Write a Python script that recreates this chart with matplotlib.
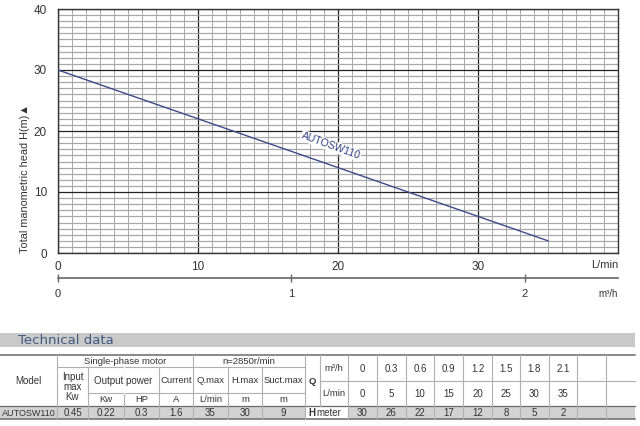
#!/usr/bin/env python3
"""AUTOSW110 pump curve with technical data table"""

import matplotlib
matplotlib.use("Agg")
import matplotlib.pyplot as plt
from matplotlib.patches import Rectangle
from matplotlib.ticker import MultipleLocator

plt.rcParams["font.family"] = ["Liberation Sans", "DejaVu Sans"]

# curve (L/min, m)
curve_q = [0, 10, 20, 30, 35]
curve_h = [30, 22, 14, 6, 2]
model = "AUTOSW110"

# technical data table
spec_values = ["AUTOSW110", "0.45", "0.22", "0.3", "1.6", "35", "30", "9"]
q_m3h = ["0", "0.3", "0.6", "0.9", "1.2", "1.5", "1.8", "2.1", "", ""]
q_lmin = ["0", "5", "10", "15", "20", "25", "30", "35", "", ""]
h_meter = ["30", "26", "22", "17", "12", "8", "5", "2", "", ""]

W, H = 640, 426
TXT = "#333333"


def plot_curve(ax):
    ax.plot(curve_q, curve_h, color="#3b4b8c", lw=1.0, zorder=3)
    ax.set_xlim(0, 40)
    ax.set_ylim(0, 40)

    ax.xaxis.set_major_locator(MultipleLocator(10))
    ax.yaxis.set_major_locator(MultipleLocator(10))
    ax.xaxis.set_minor_locator(MultipleLocator(1))
    ax.yaxis.set_minor_locator(MultipleLocator(1))
    ax.grid(which="minor", axis="x", color="#9a9a9a", lw=0.6)
    ax.grid(which="minor", axis="y", color="#a8a8a8", lw=0.9)
    ax.grid(which="major", color="#222222", lw=0.9)
    ax.set_axisbelow(True)
    ax.tick_params(which="both", length=0, labelsize=8.5, labelcolor=TXT)
    ax.tick_params(axis="x", pad=6)
    ax.tick_params(axis="y", pad=8)
    ax.set_xticks([0, 10, 20, 30])
    for s in ax.spines.values():
        s.set_color("#333333")
        s.set_linewidth(1.0)

    ax.text(1.0, -0.05, "L/min", transform=ax.transAxes, ha="right",
            va="center", fontsize=8, color=TXT)
    ax.text(-0.059, 0.0, "Total manometric head H(m)\u25B2", transform=ax.transAxes,
            rotation=90, ha="center", va="bottom", fontsize=7.8, color=TXT)

    ax.text(19.5, 17.6, model, rotation=-20, ha="center", va="center",
            fontsize=7.5, color="#2f3f80", zorder=4,
            bbox=dict(facecolor="white", edgecolor="none", pad=0.5))

    # m3/h scale under the L/min axis
    sec = ax.secondary_xaxis(-0.1025, functions=(lambda q: q * 60 / 1000,
                                                 lambda m: m * 1000 / 60))
    sec.set_xticks([0, 1, 2])
    sec.spines["bottom"].set_color("#666666")
    sec.spines["bottom"].set_linewidth(1.2)
    sec.tick_params(direction="inout", length=6, width=1, color="#666666",
                    labelsize=8, labelcolor=TXT, pad=5)
    ax.text(1.0, -0.17, "m\u00b3/h", transform=ax.transAxes, ha="right",
            va="center", fontsize=7, color=TXT)


def cell(tx, x0, x1, y0, y1, text, fill=None, **kw):
    if fill:
        tx.add_patch(Rectangle((x0, y0), x1 - x0, y1 - y0, facecolor=fill,
                               edgecolor="none", zorder=1))
    if text:
        tx.text((x0 + x1) / 2, (y0 + y1) / 2 + 0.5, text, ha="center",
                va="center", fontsize=kw.pop("fontsize", 6.8),
                color=TXT, zorder=3, linespacing=1.0, **kw)


def plot_table(tx):
    tx.set_xlim(0, W)
    tx.set_ylim(H, 0)
    tx.axis("off")

    # header band
    tx.add_patch(Rectangle((0, 333), 635, 14, facecolor="#c9c9c9",
                           edgecolor="none"))
    tx.text(18, 340.5, "Technical data", ha="left", va="center",
            fontsize=9.5, color="#3f5a82", family=["DejaVu Sans"])

    lc = [0, 57, 88, 124, 159, 193, 228, 262, 305]
    rc = [305, 320, 348, 377, 406, 434, 463, 492, 520, 549, 577, 606, 635]
    top, r1, r2, r3, bot = 355, 367, 393, 406, 419
    gray = "#d2d2d2"

    # data row backgrounds
    tx.add_patch(Rectangle((0, r3), 305, bot - r3, facecolor=gray,
                           edgecolor="none"))
    tx.add_patch(Rectangle((348, r3), 635 - 348, bot - r3, facecolor=gray,
                           edgecolor="none"))

    # left header
    cell(tx, lc[0], lc[1], top, r3, "Model", fontsize=7)
    cell(tx, lc[1], lc[5], top, r1, "Single-phase motor")
    cell(tx, lc[5], lc[8], top, r1, "n=2850r/min")
    cell(tx, lc[1], lc[2], r1, r3, "Input\nmax\nKw", fontsize=7)
    cell(tx, lc[2], lc[4], r1, r2, "Output power", fontsize=7)
    cell(tx, lc[4], lc[5], r1, r2, "Current")
    cell(tx, lc[5], lc[6], r1, r2, "Q.max")
    cell(tx, lc[6], lc[7], r1, r2, "H.max")
    cell(tx, lc[7], lc[8], r1, r2, "Suct.max")
    for i, u in enumerate(["Kw", "HP", "A", "L/min", "m", "m"]):
        cell(tx, lc[i + 2], lc[i + 3], r2, r3, u)
    for i, v in enumerate(spec_values):
        cell(tx, lc[i], lc[i + 1], r3, bot, v,
             fontsize=6.5 if i == 0 else 7)

    # right side Q / H
    mid = 381
    cell(tx, rc[0], rc[1], top, r3, "Q", fontweight="bold")
    cell(tx, rc[1], rc[2], top, mid, "m\u00b3/h")
    cell(tx, rc[1], rc[2], mid, r3, "L/min")
    tx.text(308, (r3 + bot) / 2 + 0.5, "H", ha="left", va="center",
            fontsize=7, fontweight="bold", color=TXT)
    tx.text(316, (r3 + bot) / 2 + 0.5, "meter", ha="left", va="center",
            fontsize=7, color=TXT)
    for i in range(len(h_meter)):
        cell(tx, rc[i + 2], rc[i + 3], top, mid, q_m3h[i], fontsize=7)
        cell(tx, rc[i + 2], rc[i + 3], mid, r3, q_lmin[i], fontsize=7)
        cell(tx, rc[i + 2], rc[i + 3], r3, bot, h_meter[i], fontsize=7)

    light, dark = "#b0b0b0", "#6a6a6a"
    # horizontal rules
    tx.plot([0, 635], [top, top], color=dark, lw=1.1)
    tx.plot([lc[1], lc[8]], [r1, r1], color=light, lw=0.8)
    tx.plot([lc[2], lc[8]], [r2, r2], color=light, lw=0.8)
    tx.plot([rc[1], 635], [mid, mid], color=light, lw=0.8)
    tx.plot([0, 635], [r3, r3], color=dark, lw=0.9)
    tx.plot([0, 635], [bot, bot], color=dark, lw=1.1)
    # vertical rules
    for x in lc[1:]:
        y0 = top if x in (lc[1], lc[5], lc[8]) else r1
        tx.plot([x, x], [y0, bot], color=light, lw=0.8)
    tx.plot([lc[3], lc[3]], [r1, r2], color="white", lw=1.0)
    tx.plot([rc[1], rc[1]], [top, r3], color=light, lw=0.8)
    for x in rc[2:-1]:
        tx.plot([x, x], [top, bot], color=light, lw=0.8)


def main():
    fig = plt.figure(figsize=(W / 100, H / 100), dpi=100)
    ax = fig.add_axes([58 / W, (H - 253) / H, 560 / W, 244 / H])
    plot_curve(ax)
    tx = fig.add_axes([0, 0, 1, 1], zorder=-1)
    tx.patch.set_alpha(0)
    plot_table(tx)
    fig.savefig("out.png", dpi=100)


if __name__ == "__main__":
    main()
